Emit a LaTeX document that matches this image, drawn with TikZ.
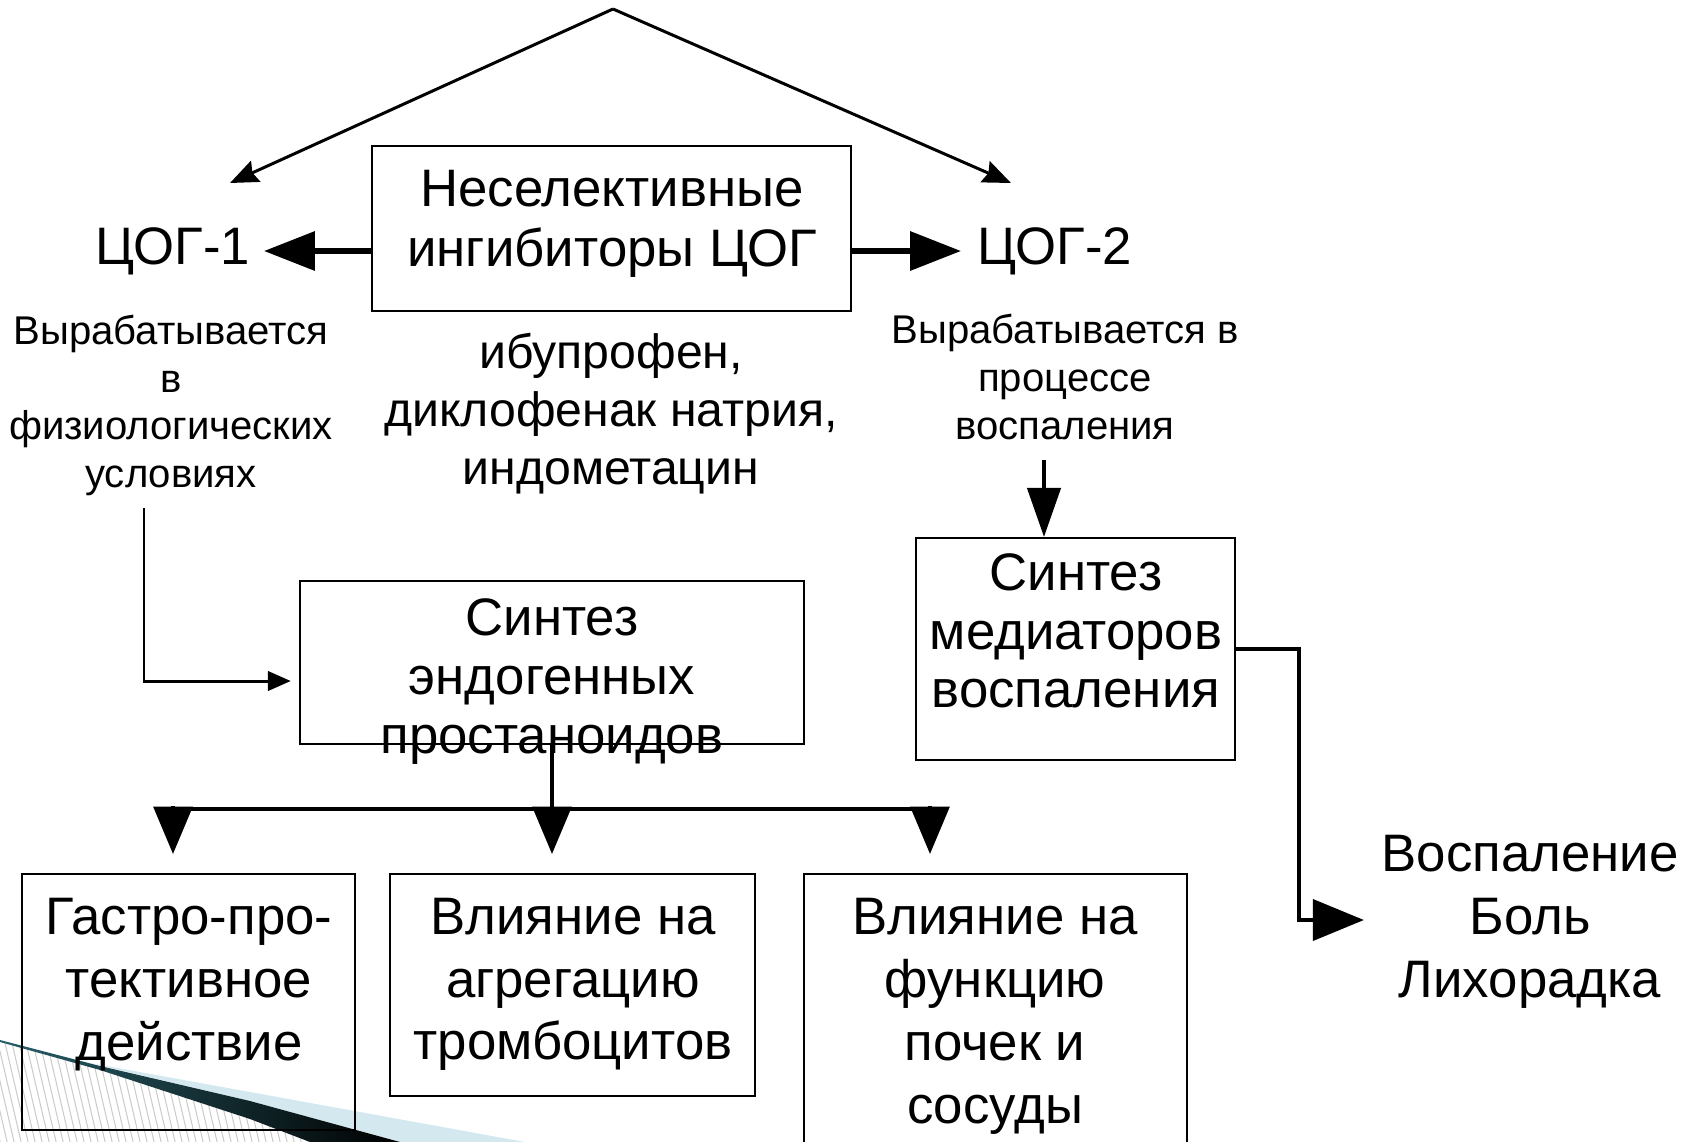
\documentclass[tikz,border=0pt]{standalone}
\usepackage{fontspec}
\setmainfont{Liberation Sans}
\usepackage{tikz}
\usetikzlibrary{arrows.meta}
\definecolor{decoblue}{RGB}{212,232,240}
\definecolor{decoteal}{RGB}{40,95,105}

\begin{document}
\begin{tikzpicture}[x=0.01cm,y=-0.01cm,
            bigtext/.style={font=\fontsize{15}{17.8}\selectfont,align=center,inner sep=0pt},
            midtext/.style={font=\fontsize{13.7}{16.5}\selectfont,align=center,inner sep=0pt},
            smalltext/.style={font=\fontsize{11.4}{13.6}\selectfont,align=center,inner sep=0pt},
            box/.style={draw,line width=0.6pt,inner sep=0pt},
            slimarrow/.style={line width=0.85pt,-{Stealth[length=8pt,width=6.5pt,inset=1pt]}},
            fatarrow/.style={line width=1.85pt,-{Triangle[length=14.5pt,width=10.8pt]}},
            busarrow/.style={line width=1.2pt,-{Triangle[length=13.5pt,width=11pt]}}]
            \useasboundingbox (0,0) rectangle (1696,1142);

            \begin{scope}
                \clip (0,1042) -- (100,1070) -- (250,1119) -- (310,1142) -- (0,1142) -- cycle;
                \foreach \x in {-40,-33,...,330}
                    \draw[gray!40,line width=0.3pt] (\x,1030) -- (\x+28,1150);
            \end{scope}
            \fill[decoblue] (90,1063) -- (250,1092) -- (525,1142) -- (400,1142) -- (250,1101) -- cycle;
            \shade[left color=decoteal,right color=black] (0,1040) -- (100,1066) -- (250,1101) -- (400,1142)
                -- (310,1142) -- (250,1119) -- (100,1070) -- (0,1042) -- cycle;

            \coordinate (apex) at (613,9);
            \coordinate (c1in) at (230,183);
            \coordinate (c2in) at (1011,183);
            \draw[slimarrow] (apex) -- (c1in);
            \draw[slimarrow] (apex) -- (c2in);

            \node[box,minimum width=4.79cm,minimum height=1.65cm] (nsaidbox) at (611.5,228.5) {};
            \node[bigtext,font=\fontsize{15}{17.2}\selectfont] (nsaid) at (612,224) {Неселективные\\ингибиторы ЦОГ};
            \node[bigtext] (cox1) at (173,251) {ЦОГ-1};
            \node[bigtext] (cox2) at (1055,251) {ЦОГ-2};
            \draw[fatarrow,shorten >=0.13cm] (nsaidbox.west |- cox1.east) -- (cox1.east);
            \draw[fatarrow,shorten >=0.16cm] (nsaidbox.east |- cox2.west) -- (cox2.west);

            \node[smalltext] (note1) at (171,405.5) {Вырабатывается\\в\\физиологических\\условиях};
            \node[midtext] (drugs) at (611,413.5) {ибупрофен,\\диклофенак натрия,\\индометацин};
            \node[smalltext] (note2) at (1065,377) {Вырабатывается в\\процессе\\воспаления};

            \node[box,minimum width=3.19cm,minimum height=2.22cm] (medbox) at (1075.5,649) {};
            \node[bigtext,font=\fontsize{15}{16.6}\selectfont] (med) at (1076,631) {Синтез\\медиаторов\\воспаления};
            \coordinate (n2out) at (1044,460);
            \coordinate (medin) at (1044,537);
            \draw[line width=1.3pt,-{Triangle[length=14pt,width=9.4pt]}] (n2out) -- (medin);

            \node[bigtext,font=\fontsize{15}{17.9}\selectfont] (symp) at (1530,922) {Воспаление\\Боль\\Лихорадка};
            \draw[line width=1pt,-{Triangle[length=14.5pt,width=11.7pt]}] (medbox.east) -- ++(63,0) |- ([xshift=-0.17cm,yshift=0.02cm]symp.west);

            \node[box,minimum width=5.04cm,minimum height=1.63cm] (prostbox) at (552,662.5) {};
            \node[bigtext,font=\fontsize{15}{16.8}\selectfont] (prost) at (552,681.5) {Синтез\\эндогенных\\простаноидов};
            \coordinate (n1out) at (144,508);
            \draw[line width=0.85pt,-{Triangle[length=6.5pt,width=5.5pt]}] (n1out) |- ([xshift=-0.08cm,yshift=-0.185cm]prostbox.west);

            \coordinate (busmid) at (552,809);
            \coordinate (busl) at (173,809);
            \coordinate (busr) at (948,809);
            \draw[line width=1.2pt] (prostbox.south) -- (busmid);
            \draw[line width=1.2pt] (busl) -- (busr);
            \foreach \x in {173,552,930}
                \draw[busarrow] (\x,806) -- (\x,854);

            \node[box,minimum width=3.33cm,minimum height=2.56cm] (gastrobox) at (188.5,1002) {};
            \node[bigtext] (gastro) at (189,984.5) {Гастро-про-\\тективное\\действие};
            \node[box,minimum width=3.65cm,minimum height=2.22cm] (platebox) at (572.5,985) {};
            \node[bigtext] (plate) at (573,984.5) {Влияние на\\агрегацию\\тромбоцитов};
            \node[box,minimum width=3.83cm,minimum height=2.86cm] (kidneybox) at (995.5,1017) {};
            \node[bigtext,font=\fontsize{15}{17.9}\selectfont] (kidney) at (995,1016.5) {Влияние на\\функцию\\почек и\\сосуды};

        \end{tikzpicture}
\end{document}
